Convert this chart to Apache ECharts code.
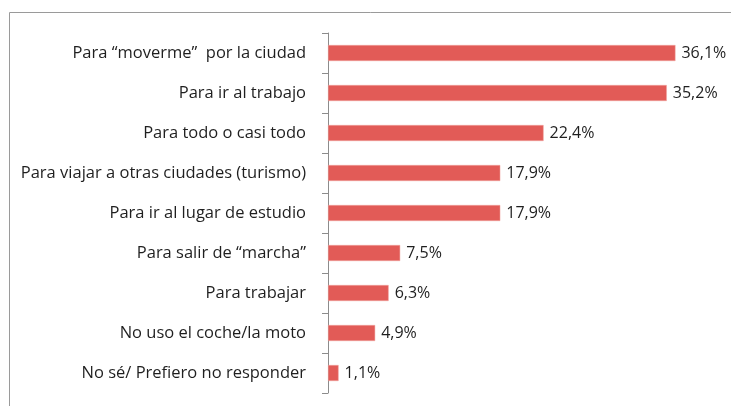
<!DOCTYPE html>
<html>
<head>
<meta charset="utf-8">
<script src="https://cdn.jsdelivr.net/npm/echarts@6/dist/echarts.min.js"></script>
<style>
  html, body { margin: 0; padding: 0; background: #fff; }
  #chart { width: 731px; height: 406px; }
</style>
</head>
<body>
<div id="chart"></div>
<script>
  // categorías y porcentajes
  var categories = [
    'Para “moverme”  por la ciudad',
    'Para ir al trabajo',
    'Para todo o casi todo',
    'Para viajar a otras ciudades (turismo)',
    'Para ir al lugar de estudio',
    'Para salir de “marcha”',
    'Para trabajar',
    'No uso el coche/la moto',
    'No sé/ Prefiero no responder'
  ];
  var values = [36.1, 35.2, 22.4, 17.9, 17.9, 7.5, 6.3, 4.9, 1.1];

  var chart = echarts.init(document.getElementById('chart'));
  chart.setOption({
    animation: false,
    graphic: [{
      type: 'rect',
      shape: { x: 9.5, y: 12.5, width: 760, height: 420 },
      style: { fill: 'none', stroke: '#9a9a9a', lineWidth: 1 },
      silent: true
    }],
    grid: { left: 328, right: 18, top: 33, bottom: 13 },
    xAxis: {
      type: 'value',
      min: 0,
      max: 40,
      show: false
    },
    yAxis: {
      type: 'category',
      inverse: true,
      data: categories,
      axisLine: { show: true, lineStyle: { color: '#8c8c8c', width: 1 } },
      axisTick: { show: true, length: 6, lineStyle: { color: '#8c8c8c' } },
      axisLabel: {
        margin: 22,
        color: '#1f1f1f',
        fontFamily: 'Open Sans',
        fontSize: 16.5
      }
    },
    series: [{
      type: 'bar',
      data: values,
      barWidth: 16,
      itemStyle: {
        color: '#e25b57',
        borderColor: '#f0a8a5',
        borderWidth: 0.5
      },
      label: {
        show: true,
        position: 'right',
        distance: 6,
        color: '#1f1f1f',
        fontFamily: 'Open Sans',
        fontSize: 16,
        formatter: function (p) {
          return p.value.toFixed(1).replace('.', ',') + '%';
        }
      }
    }]
  });
</script>
</body>
</html>
